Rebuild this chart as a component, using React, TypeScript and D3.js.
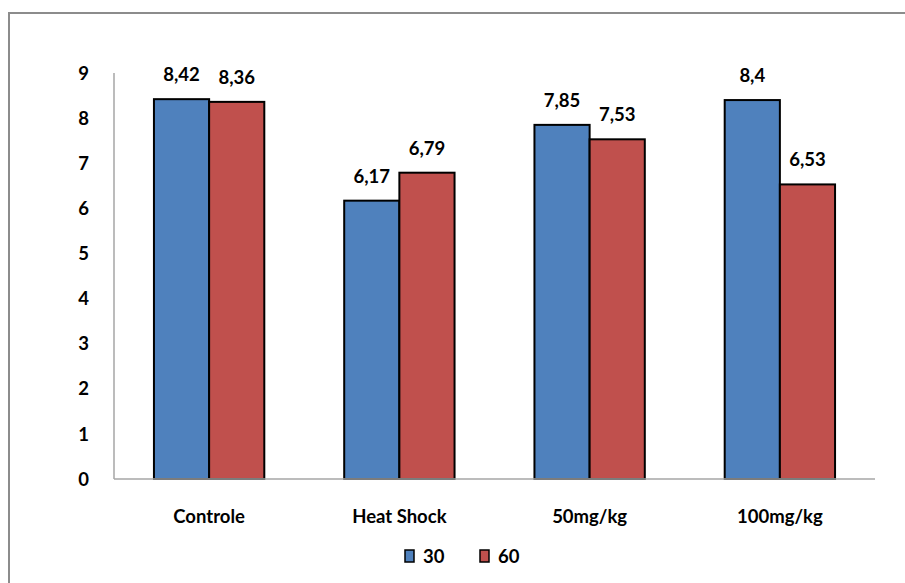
import React from "react";
import * as d3 from "d3";

const categories = ["Controle", "Heat Shock", "50mg/kg", "100mg/kg"];
const seriesNames = ["30", "60"];
const values30 = [8.42, 6.17, 7.85, 8.4];
const values60 = [8.36, 6.79, 7.53, 6.53];
const yTicks = [0, 1, 2, 3, 4, 5, 6, 7, 8, 9];
const colors = ["#4F81BD", "#C0504D"];

const W = 905;
const H = 583;
const FONT = "Lato, 'Open Sans', sans-serif";
const FS = 18.5;

export default function App() {
  const plotLeft = 114;
  const plotRight = 875;
  const plotTop = 73;
  const plotBottom = 479;

  const x = d3.scaleBand<string>().domain(categories).range([plotLeft, plotRight]).paddingInner(0.42).paddingOuter(0.21);
  const y = d3.scaleLinear().domain([0, 9]).range([plotBottom, plotTop]);
  const xs = d3.scaleBand<string>().domain(seriesNames).range([0, x.bandwidth()]);
  const series = [values30, values60];
  const fmt = (v: number) => String(v).replace(".", ",");

  return (
    <div style={{ position: "fixed", left: 0, top: 0 }}>
      <svg width={W} height={H} style={{ display: "block" }}>
        <rect x={0} y={0} width={W} height={H} fill="#fff" />
        <rect x={9} y={13} width={W + 50} height={H + 50} fill="none" stroke="#8c8c8c" strokeWidth={2} />
        <line x1={plotLeft} x2={plotLeft} y1={plotTop} y2={plotBottom} stroke="#a6a6a6" strokeWidth={1.5} />
        {yTicks.map((t) => (
          <text key={t} x={89} y={y(t)} dy="0.36em" textAnchor="end" fontFamily={FONT} fontWeight="bold" fontSize={FS} fill="#000">
            {t}
          </text>
        ))}
        {categories.map((c, i) => (
          <g key={c}>
            {series.map((vals, s) => {
              const bx = (x(c) as number) + (xs(seriesNames[s]) as number);
              const bw = xs.bandwidth();
              return (
                <g key={s}>
                  <rect x={bx} y={y(vals[i])} width={bw} height={plotBottom - y(vals[i])} fill={colors[s]} stroke="#000" strokeWidth={2} />
                  <text x={bx + bw / 2} y={y(vals[i]) - 18} textAnchor="middle" fontFamily={FONT} fontWeight="bold" fontSize={FS} fill="#000">
                    {fmt(vals[i])}
                  </text>
                </g>
              );
            })}
            <text x={(x(c) as number) + x.bandwidth() / 2} y={523} textAnchor="middle" fontFamily={FONT} fontWeight="bold" fontSize={FS} fill="#000">
              {c}
            </text>
          </g>
        ))}
        <line x1={plotLeft} x2={plotRight} y1={plotBottom} y2={plotBottom} stroke="#a6a6a6" strokeWidth={1.5} />
        {seriesNames.map((s, i) => (
          <g key={s} transform={`translate(${405 + i * 75},550)`}>
            <rect x={0} y={0} width={9} height={12} fill={colors[i]} stroke="#000" strokeWidth={1.5} />
            <text x={18} y={12.5} fontFamily={FONT} fontWeight="bold" fontSize={FS} fill="#000">
              {s}
            </text>
          </g>
        ))}
      </svg>
    </div>
  );
}
